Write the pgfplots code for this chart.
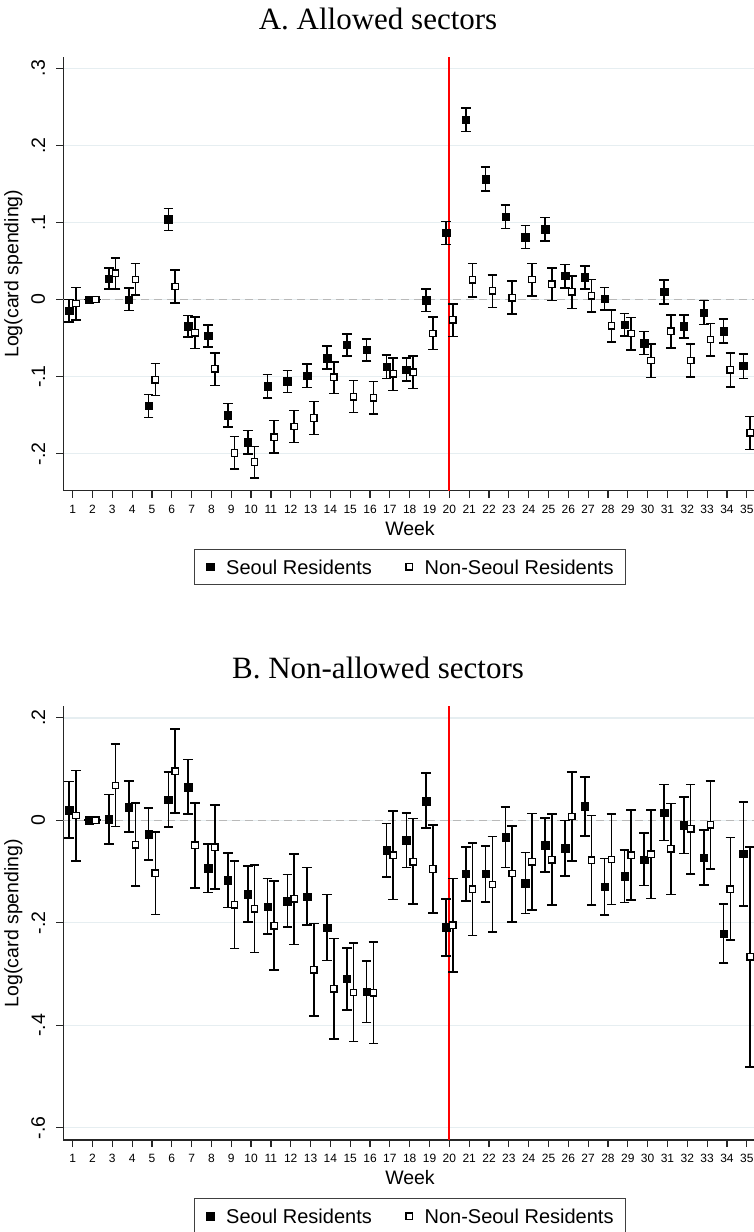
\documentclass[border=0pt]{standalone}
\usepackage{pgfplots}
\pgfplotsset{compat=1.18}
\usepackage{pgfplotstable}
\usepackage{fontspec}
\setmainfont{Liberation Sans}
\newfontfamily\titlefont{Liberation Serif}
\definecolor{gridc}{RGB}{230,238,241}
\definecolor{zeroc}{RGB}{185,185,185}
\definecolor{legc}{RGB}{64,64,64}
\definecolor{refred}{RGB}{255,0,0}

% Panel A, Seoul residents: week, estimate, lower CI, upper CI
\pgfplotstableread{
w y lo hi
1 -0.0143 -0.0290 0.0000
2 0 0 0
3 0.0273 0.0139 0.0411
4 0.0000 -0.0143 0.0147
5 -0.1377 -0.1528 -0.1234
6 0.1043 0.0896 0.1182
7 -0.0346 -0.0485 -0.0208
8 -0.0468 -0.0615 -0.0329
9 -0.1498 -0.1650 -0.1350
10 -0.1853 -0.2000 -0.1697
11 -0.1126 -0.1277 -0.0974
12 -0.1061 -0.1208 -0.0922
13 -0.0987 -0.1139 -0.0835
14 -0.0758 -0.0900 -0.0606
15 -0.0589 -0.0732 -0.0446
16 -0.0654 -0.0801 -0.0511
17 -0.0874 -0.1022 -0.0719
18 -0.0909 -0.1060 -0.0758
19 -0.0009 -0.0156 0.0134
20 0.0866 0.0714 0.1013
21 0.2333 0.2182 0.2485
22 0.1563 0.1407 0.1719
23 0.1074 0.0922 0.1225
24 0.0810 0.0662 0.0961
25 0.0913 0.0762 0.1065
26 0.0307 0.0152 0.0455
27 0.0290 0.0139 0.0437
28 0.0009 -0.0139 0.0156
29 -0.0329 -0.0476 -0.0182
30 -0.0567 -0.0714 -0.0416
31 0.0100 -0.0056 0.0255
32 -0.0346 -0.0502 -0.0199
33 -0.0169 -0.0325 -0.0013
34 -0.0411 -0.0567 -0.0251
35 -0.0857 -0.1026 -0.0706
}\aS

% Panel A, non-Seoul residents
\pgfplotstableread{
w y lo hi
1 -0.0052 -0.0264 0.0156
2 0 0 0
3 0.0342 0.0134 0.0541
4 0.0260 0.0056 0.0468
5 -0.1043 -0.1247 -0.0831
6 0.0169 -0.0043 0.0385
7 -0.0433 -0.0636 -0.0229
8 -0.0900 -0.1113 -0.0693
9 -0.1991 -0.2199 -0.1779
10 -0.2108 -0.2316 -0.1905
11 -0.1784 -0.1991 -0.1571
12 -0.1649 -0.1857 -0.1437
13 -0.1537 -0.1749 -0.1325
14 -0.1009 -0.1221 -0.0810
15 -0.1260 -0.1468 -0.1052
16 -0.1273 -0.1485 -0.1065
17 -0.0965 -0.1182 -0.0758
18 -0.0944 -0.1156 -0.0736
19 -0.0442 -0.0649 -0.0229
20 -0.0264 -0.0480 -0.0056
21 0.0255 0.0035 0.0468
22 0.0113 -0.0104 0.0320
23 0.0022 -0.0186 0.0238
24 0.0260 0.0043 0.0468
25 0.0199 -0.0013 0.0407
26 0.0100 -0.0117 0.0303
27 0.0048 -0.0165 0.0260
28 -0.0342 -0.0554 -0.0134
29 -0.0442 -0.0658 -0.0234
30 -0.0792 -0.1009 -0.0580
31 -0.0411 -0.0628 -0.0203
32 -0.0792 -0.1004 -0.0580
33 -0.0519 -0.0736 -0.0312
34 -0.0913 -0.1134 -0.0697
35 -0.1727 -0.1948 -0.1515
}\aN

% Panel B, Seoul residents
\pgfplotstableread{
w y lo hi
1 0.0195 -0.0345 0.0754
2 0 0 0
3 0.0020 -0.0468 0.0507
4 0.0260 -0.0228 0.0761
5 -0.0273 -0.0774 0.0234
6 0.0403 -0.0130 0.0937
7 0.0650 0.0124 0.1184
8 -0.0937 -0.1411 -0.0462
9 -0.1171 -0.1704 -0.0637
10 -0.1444 -0.1984 -0.0891
11 -0.1685 -0.2224 -0.1138
12 -0.1580 -0.2081 -0.1060
13 -0.1489 -0.2042 -0.0924
14 -0.2101 -0.2738 -0.1450
15 -0.3096 -0.3707 -0.2498
16 -0.3350 -0.3948 -0.2751
17 -0.0585 -0.1106 -0.0059
18 -0.0390 -0.0920 0.0146
19 0.0377 -0.0150 0.0917
20 -0.2088 -0.2647 -0.1535
21 -0.1047 -0.1580 -0.0520
22 -0.1041 -0.1593 -0.0501
23 -0.0332 -0.0924 0.0260
24 -0.1229 -0.1821 -0.0631
25 -0.0488 -0.1015 0.0039
26 -0.0540 -0.1086 -0.0007
27 0.0273 -0.0306 0.0846
28 -0.1294 -0.1854 -0.0748
29 -0.1093 -0.1607 -0.0585
30 -0.0767 -0.1275 -0.0247
31 0.0150 -0.0397 0.0702
32 -0.0098 -0.0650 0.0449
33 -0.0728 -0.1268 -0.0189
34 -0.2211 -0.2784 -0.1633
35 -0.0657 -0.1672 0.0351
}\bS

% Panel B, non-Seoul residents
\pgfplotstableread{
w y lo hi
1 0.0091 -0.0793 0.0969
2 0 0 0
3 0.0676 -0.0124 0.1483
4 -0.0481 -0.1281 0.0332
5 -0.1034 -0.1841 -0.0228
6 0.0956 0.0137 0.1782
7 -0.0488 -0.1320 0.0338
8 -0.0527 -0.1346 0.0299
9 -0.1652 -0.2504 -0.0800
10 -0.1730 -0.2582 -0.0872
11 -0.2062 -0.2927 -0.1190
12 -0.1535 -0.2426 -0.0657
13 -0.2920 -0.3824 -0.2016
14 -0.3291 -0.4273 -0.2309
15 -0.3363 -0.4319 -0.2400
16 -0.3369 -0.4358 -0.2380
17 -0.0683 -0.1548 0.0176
18 -0.0813 -0.1639 0.0033
19 -0.0950 -0.1808 -0.0091
20 -0.2049 -0.2959 -0.1138
21 -0.1346 -0.2250 -0.0442
22 -0.1255 -0.2185 -0.0319
23 -0.1041 -0.1984 -0.0111
24 -0.0813 -0.1756 0.0130
25 -0.0774 -0.1659 0.0117
26 0.0072 -0.0800 0.0937
27 -0.0780 -0.1659 0.0091
28 -0.0767 -0.1646 0.0117
29 -0.0683 -0.1561 0.0195
30 -0.0663 -0.1528 0.0195
31 -0.0559 -0.1450 0.0325
32 -0.0169 -0.1054 0.0702
33 -0.0091 -0.0950 0.0761
34 -0.1346 -0.2341 -0.0338
35 -0.2667 -0.4813 -0.0520
}\bN

\pgfplotsset{
  panel/.style={
    scale only axis, width=693.4pt, height=434pt,
    anchor=south west,
    xmin=0.53, xmax=35.5,
    axis lines=left,
    axis line style={-, black!85, line width=1.2pt},
    tick align=outside, major tick length=7pt,
    tick style={black!85, line width=1.2pt},
    xtick={1,...,35},
    /pgf/number format/assume math mode=true,
    xticklabel style={font=\fontsize{12}{14}\selectfont, inner sep=0pt, anchor=north},
    yticklabel style={font=\fontsize{19.5}{23}\selectfont, rotate=90, anchor=south, inner sep=0pt},
    yticklabel shift=11pt,
    xticklabel shift=7pt,
    ymajorgrids, major grid style={gridc, line width=1.4pt},
    xlabel={Week},
    xlabel style={at={(axis description cs:0.5,-0.0698)}, anchor=north, inner sep=0pt, font=\fontsize{19.5}{23}\selectfont},
    ylabel={Log(card spending)},
    ylabel style={at={(axis description cs:-0.05855,0.5)}, anchor=south, inner sep=0pt, font=\fontsize{19.5}{23}\selectfont},
    title style={at={(axis description cs:0.4539,1.0485)}, anchor=base, inner sep=0pt, font=\titlefont\fontsize{31}{36}\selectfont},
    legend columns=2,
    legend image code/.code={\draw[#1] plot coordinates {(0pt,0pt)};},
    legend style={at={(axis description cs:0.5,-0.1343)}, anchor=north,
      draw=legc, line width=1pt, inner xsep=12pt, inner ysep=10.2pt,
      font=\fontsize{20}{24}\selectfont,
      cells={anchor=center},
      nodes={inner sep=0pt, text depth=0pt},
      /tikz/every odd column/.append style={column sep=12.3pt},
      /tikz/every even column/.append style={column sep=34pt}},
  },
  ebars/.style={
    error bars/.cd, y dir=both, y explicit, error mark=-,
    error bar style={black, solid, line width=1.6pt},
    error mark options={rotate=90, black, solid, mark size=4.8pt, line width=1.6pt}},
  seoul/.style={only marks, mark=square*, mark size=3.75pt, black,
    mark options={fill=black, draw=black, solid, line width=0.4pt}},
  nons/.style={only marks, mark=square*, mark size=3.2pt, black,
    mark options={fill=white, draw=black, solid, line width=1.3pt}},
}

\begin{document}
\begin{tikzpicture}
\useasboundingbox (0pt,0pt) rectangle (754pt,-1232pt);

% ---------------- Panel A ----------------
\begin{axis}[panel, at={(63.3pt,-490.7pt)},
  ymin=-0.248, ymax=0.315,
  ytick={-0.2,-0.1,0,0.1,0.2,0.3},
  yticklabels={-.2,-.1,0,.1,.2,.3},
  title={A. Allowed sectors}]
\addplot[color=zeroc, line width=1.5pt, dash pattern=on 8pt off 5pt, forget plot] coordinates {(0.53,0) (35.5,0)};
\addplot[color=refred, line width=1.9pt, forget plot] coordinates {(20,-0.248) (20,0.315)};
\addplot[seoul, ebars] table[x expr=\thisrow{w}-0.17, y=y, y error plus expr=\thisrow{hi}-\thisrow{y}, y error minus expr=\thisrow{y}-\thisrow{lo}] {\aS};
\addlegendentry{Seoul Residents}
\addplot[nons, ebars] table[x expr=\thisrow{w}+0.17, y=y, y error plus expr=\thisrow{hi}-\thisrow{y}, y error minus expr=\thisrow{y}-\thisrow{lo}] {\aN};
\addlegendentry{Non-Seoul Residents}
\end{axis}

% ---------------- Panel B ----------------
\begin{axis}[panel, at={(63.3pt,-1140pt)},
  ymin=-0.624, ymax=0.223,
  ytick={-0.6,-0.4,-0.2,0,0.2},
  yticklabels={-.6,-.4,-.2,0,.2},
  title={B. Non-allowed sectors}]
\addplot[color=zeroc, line width=1.5pt, dash pattern=on 8pt off 5pt, forget plot] coordinates {(0.53,0) (35.5,0)};
\addplot[color=refred, line width=1.9pt, forget plot] coordinates {(20,-0.624) (20,0.223)};
\addplot[seoul, ebars] table[x expr=\thisrow{w}-0.17, y=y, y error plus expr=\thisrow{hi}-\thisrow{y}, y error minus expr=\thisrow{y}-\thisrow{lo}] {\bS};
\addlegendentry{Seoul Residents}
\addplot[nons, ebars] table[x expr=\thisrow{w}+0.17, y=y, y error plus expr=\thisrow{hi}-\thisrow{y}, y error minus expr=\thisrow{y}-\thisrow{lo}] {\bN};
\addlegendentry{Non-Seoul Residents}
\end{axis}
\end{tikzpicture}
\end{document}
